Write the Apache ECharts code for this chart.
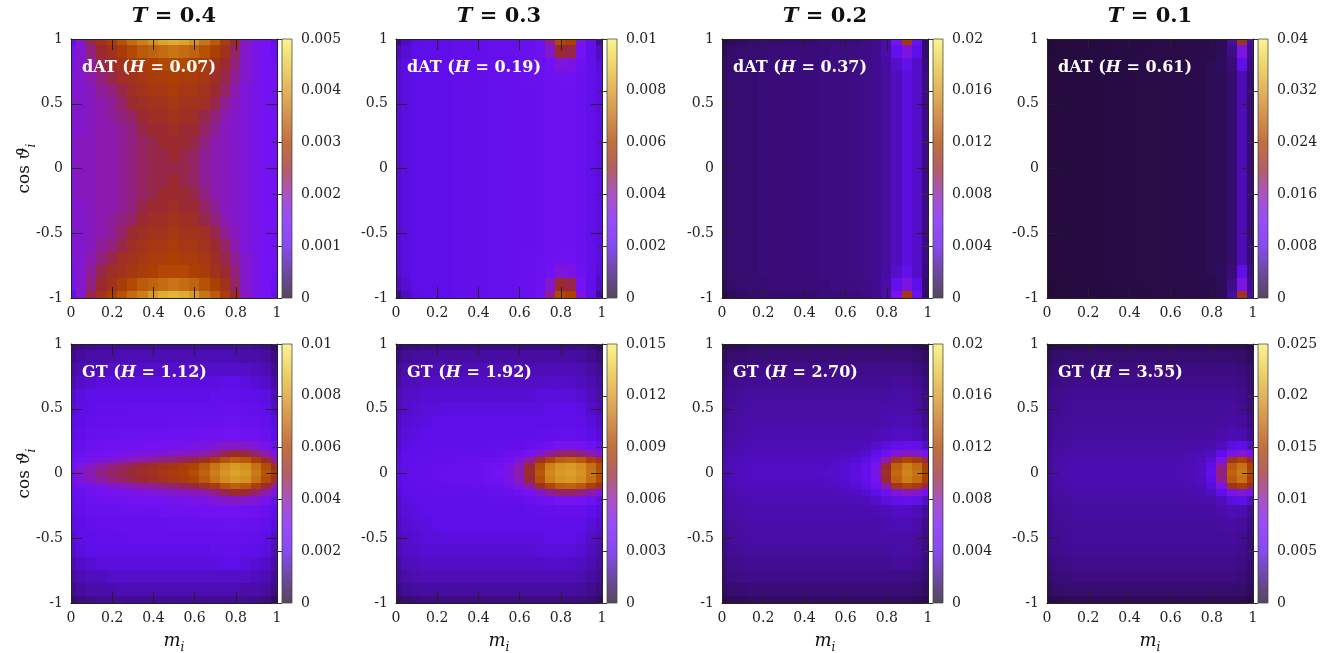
<!DOCTYPE html>
<html>
<head>
<meta charset="utf-8">
<script src="https://cdn.jsdelivr.net/npm/echarts@6/dist/echarts.min.js"></script>
<style>
html, body { margin: 0; padding: 0; background: #fff; }
#chart { width: 1334px; height: 653px; }
</style>
</head>
<body>
<div id="chart"></div>
<script>
// Grid coordinates of the sampled maps
const mCols = [0, 0.05, 0.1, 0.15, 0.2, 0.25, 0.3, 0.35, 0.4, 0.45, 0.5, 0.55, 0.6, 0.65, 0.7, 0.75, 0.8, 0.85, 0.9, 0.95, 1];
const cosRowsDAT = [1, 0.9, 0.8, 0.7, 0.6, 0.5, 0.4, 0.3, 0.2, 0.1, 0, -0.1, -0.2, -0.3, -0.4, -0.5, -0.6, -0.7, -0.8, -0.9, -1];
const cosRowsGT = [1, 0.9, 0.8, 0.7, 0.6, 0.5, 0.4, 0.3, 0.2, 0.15, 0.1, 0.05, 0, -0.05, -0.1, -0.15, -0.2, -0.3, -0.4, -0.5, -0.6, -0.7, -0.8, -0.9, -1];

// Panel annotations and colour-bar scales
const temps = ['0.4', '0.3', '0.2', '0.1'];
const datH = ['0.07', '0.19', '0.37', '0.61'];
const gtH = ['1.12', '1.92', '2.70', '3.55'];
const datMax = [0.005, 0.01, 0.02, 0.04];
const datStep = [0.001, 0.002, 0.004, 0.008];
const gtMax = [0.01, 0.015, 0.02, 0.025];
const gtStep = [0.002, 0.003, 0.004, 0.005];

// Map values, in units of 1e-4; rows run from cos = 1 (top) to cos = -1 (bottom)
const UNIT = 1e-4;

const datT04 = [
  [11,18,24,27,30,32,35,37,39,41,42,41,39,36,33,29,25,19,16,15,11],
  [15,18,22,25,27,29,31,33,34,35,36,35,34,32,30,27,23,18,16,15,13],
  [16,18,21,24,26,27,28,29,30,31,31,31,30,29,27,25,22,18,16,15,14],
  [17,18,20,22,24,26,27,28,29,29,30,29,29,28,26,24,21,18,16,15,15],
  [17,18,19,21,22,24,26,27,28,28,29,28,28,27,25,23,20,17,16,15,15],
  [18,18,19,20,21,23,25,26,27,27,28,27,27,26,24,21,19,17,16,15,15],
  [18,18,19,20,21,22,23,25,26,26,27,26,26,24,22,20,18,17,16,15,15],
  [18,18,19,20,20,21,22,24,25,25,26,25,25,23,21,19,18,17,16,15,15],
  [18,19,19,20,20,21,22,23,24,25,25,25,24,22,20,19,18,17,16,15,15],
  [18,19,19,20,20,21,22,23,24,24,25,24,23,21,20,19,18,17,16,15,15],
  [18,19,19,20,20,21,22,23,24,24,24,24,23,21,20,19,18,17,16,15,15],
  [18,19,19,20,20,21,22,23,24,24,25,24,23,21,20,19,18,17,16,15,15],
  [18,19,19,20,20,21,22,23,24,25,25,25,24,22,20,19,18,17,16,15,15],
  [18,18,19,20,20,21,22,24,25,25,26,25,25,23,21,19,18,17,16,15,15],
  [18,18,19,20,21,22,23,25,26,26,27,26,26,24,22,20,18,17,16,15,15],
  [18,18,19,20,21,23,25,26,27,27,28,27,27,26,24,21,19,17,16,15,15],
  [17,18,19,21,22,24,26,27,28,28,29,28,28,27,25,23,20,17,16,15,15],
  [17,18,20,22,24,26,27,28,29,29,30,29,29,28,26,24,21,18,16,15,15],
  [16,18,21,24,26,27,28,29,30,31,31,31,30,29,27,25,22,18,16,15,14],
  [15,18,22,25,27,29,31,33,34,35,36,35,34,32,30,27,23,18,16,15,13],
  [11,18,24,27,30,32,35,37,40,42,43,42,40,36,33,29,25,19,16,15,11]
];

const datT03 = [
  [10,16,19,20,21,21,22,22,22,23,23,23,24,25,28,42,62,60,34,22,12],
  [15,18,20,20,21,21,22,22,22,23,23,23,24,25,27,36,50,48,30,22,16],
  [17,19,20,20,21,21,22,22,22,23,23,23,24,25,26,29,34,33,27,22,18],
  [18,19,20,20,21,21,22,22,22,23,23,23,24,25,26,27,28,28,25,22,19],
  [18,19,20,20,21,21,22,22,22,23,23,23,24,24,25,26,27,27,25,22,19],
  [18,19,20,20,21,21,22,22,22,23,23,23,24,24,25,26,27,27,25,22,19],
  [18,19,20,20,21,21,22,22,22,23,23,23,24,24,25,26,27,27,25,22,19],
  [18,19,20,20,21,21,22,22,22,23,23,23,24,24,25,26,27,27,25,22,19],
  [18,19,20,20,21,21,22,22,22,23,23,23,24,24,25,26,27,27,25,22,19],
  [18,19,20,20,21,21,22,22,22,23,23,23,24,24,25,26,27,27,25,22,19],
  [18,19,20,20,21,21,22,22,22,23,23,23,24,24,25,26,27,27,25,22,19],
  [18,19,20,20,21,21,22,22,22,23,23,23,24,24,25,26,27,27,25,22,19],
  [18,19,20,20,21,21,22,22,22,23,23,23,24,24,25,26,27,27,25,22,19],
  [18,19,20,20,21,21,22,22,22,23,23,23,24,24,25,26,27,27,25,22,19],
  [18,19,20,20,21,21,22,22,22,23,23,23,24,24,25,26,27,27,25,22,19],
  [18,19,20,20,21,21,22,22,22,23,23,23,24,24,25,26,27,27,25,22,19],
  [18,19,20,20,21,21,22,22,22,23,23,23,24,24,25,26,27,27,25,22,19],
  [18,19,20,20,21,21,22,22,22,23,23,23,24,25,26,27,28,28,25,22,19],
  [17,19,20,20,21,21,22,22,22,23,23,23,24,25,26,29,34,33,27,22,18],
  [15,18,20,20,21,21,22,22,22,23,23,23,24,25,27,36,50,48,30,22,16],
  [10,16,19,20,21,21,22,22,22,23,23,23,24,25,28,42,62,60,34,22,12]
];

const datT02 = [
  [7,12,14,15,16,16,16,17,17,17,18,18,18,19,20,22,28,62,112,50,14],
  [12,15,16,17,17,18,18,18,19,19,19,20,20,20,21,23,28,46,66,40,17],
  [13,16,17,17,18,18,18,19,19,19,20,20,20,21,22,23,27,35,44,34,19],
  [14,16,17,17,18,18,18,19,19,19,20,20,20,21,22,23,26,32,38,34,20],
  [14,16,17,17,18,18,18,19,19,19,20,20,20,21,22,23,26,32,38,34,20],
  [14,16,17,17,18,18,18,19,19,19,20,20,20,21,22,23,26,32,38,34,20],
  [14,16,17,17,18,18,18,19,19,19,20,20,20,21,22,23,26,32,38,34,20],
  [14,16,17,17,18,18,18,19,19,19,20,20,20,21,22,23,26,32,38,34,20],
  [14,16,17,17,18,18,18,19,19,19,20,20,20,21,22,23,26,32,38,34,20],
  [14,16,17,17,18,18,18,19,19,19,20,20,20,21,22,23,26,32,38,34,20],
  [14,16,17,17,18,18,18,19,19,19,20,20,20,21,22,23,26,32,38,34,20],
  [14,16,17,17,18,18,18,19,19,19,20,20,20,21,22,23,26,32,38,34,20],
  [14,16,17,17,18,18,18,19,19,19,20,20,20,21,22,23,26,32,38,34,20],
  [14,16,17,17,18,18,18,19,19,19,20,20,20,21,22,23,26,32,38,34,20],
  [14,16,17,17,18,18,18,19,19,19,20,20,20,21,22,23,26,32,38,34,20],
  [14,16,17,17,18,18,18,19,19,19,20,20,20,21,22,23,26,32,38,34,20],
  [14,16,17,17,18,18,18,19,19,19,20,20,20,21,22,23,26,32,38,34,20],
  [14,16,17,17,18,18,18,19,19,19,20,20,20,21,22,23,26,32,38,34,20],
  [13,16,17,17,18,18,18,19,19,19,20,20,20,21,22,23,27,35,44,34,19],
  [12,15,16,17,17,18,18,18,19,19,19,20,20,20,21,23,28,46,66,40,17],
  [7,12,14,15,16,16,16,17,17,17,18,18,18,19,20,22,28,62,112,50,14]
];

const datT01 = [
  [6,10,11,12,12,13,13,13,14,14,14,15,15,15,16,17,18,22,50,215,55],
  [9,11,12,12,13,13,13,14,14,14,15,15,15,16,16,17,19,24,42,130,48],
  [10,12,12,13,13,13,14,14,14,15,15,15,16,16,17,18,20,25,36,85,40],
  [10,12,12,13,13,13,14,14,14,15,15,15,16,16,17,18,20,24,32,60,34],
  [10,12,12,13,13,13,14,14,14,15,15,15,16,16,17,18,20,24,32,60,34],
  [10,12,12,13,13,13,14,14,14,15,15,15,16,16,17,18,20,24,32,60,34],
  [10,12,12,13,13,13,14,14,14,15,15,15,16,16,17,18,20,24,32,60,34],
  [10,12,12,13,13,13,14,14,14,15,15,15,16,16,17,18,20,24,32,60,34],
  [10,12,12,13,13,13,14,14,14,15,15,15,16,16,17,18,20,24,32,60,34],
  [10,12,12,13,13,13,14,14,14,15,15,15,16,16,17,18,20,24,32,60,34],
  [10,12,12,13,13,13,14,14,14,15,15,15,16,16,17,18,20,24,32,60,34],
  [10,12,12,13,13,13,14,14,14,15,15,15,16,16,17,18,20,24,32,60,34],
  [10,12,12,13,13,13,14,14,14,15,15,15,16,16,17,18,20,24,32,60,34],
  [10,12,12,13,13,13,14,14,14,15,15,15,16,16,17,18,20,24,32,60,34],
  [10,12,12,13,13,13,14,14,14,15,15,15,16,16,17,18,20,24,32,60,34],
  [10,12,12,13,13,13,14,14,14,15,15,15,16,16,17,18,20,24,32,60,34],
  [10,12,12,13,13,13,14,14,14,15,15,15,16,16,17,18,20,24,32,60,34],
  [10,12,12,13,13,13,14,14,14,15,15,15,16,16,17,18,20,24,32,60,34],
  [10,12,12,13,13,13,14,14,14,15,15,15,16,16,17,18,20,25,36,85,40],
  [9,11,12,12,13,13,13,14,14,14,15,15,15,16,16,17,19,24,42,130,48],
  [6,10,11,12,12,13,13,13,14,14,14,15,15,15,16,17,18,22,50,215,55]
];

const gtT04 = [
  [8,10,11,12,12,12,12,12,12,12,12,12,12,12,12,12,12,12,11,10,7],
  [11,13,14,14,14,15,15,15,15,15,15,15,15,15,15,15,15,14,14,13,10],
  [13,15,16,16,17,17,17,17,17,17,17,17,17,17,17,17,17,17,16,15,12],
  [15,17,18,19,19,19,19,19,19,19,19,19,19,19,19,20,20,19,18,17,14],
  [17,19,20,21,21,21,21,21,21,21,21,21,21,21,22,22,22,21,20,19,16],
  [18,20,21,22,22,22,23,23,23,23,23,23,23,23,23,24,24,23,22,21,17],
  [19,21,22,23,23,24,24,24,24,24,25,25,25,25,25,26,26,25,24,22,19],
  [20,22,24,25,25,26,26,26,26,27,27,27,27,28,28,29,29,28,27,25,21],
  [22,24,26,27,28,28,29,29,30,30,31,31,32,33,34,36,37,36,34,31,26],
  [24,26,28,29,30,31,32,33,34,35,36,37,38,40,43,47,50,49,45,40,32],
  [26,29,31,33,35,37,39,41,42,44,45,47,49,53,58,64,67,65,59,51,41],
  [28,34,38,41,44,46,48,50,52,54,56,58,61,66,72,77,80,78,71,63,53],
  [29,36,40,44,46,48,50,52,54,56,58,60,63,68,74,79,82,80,73,65,58],
  [28,34,38,41,44,46,48,50,52,54,56,58,61,66,72,77,80,78,71,63,53],
  [26,29,31,33,35,37,39,41,42,44,45,47,49,53,58,64,67,65,59,51,41],
  [24,26,28,29,30,31,32,33,34,35,36,37,38,40,43,47,50,49,45,40,32],
  [22,24,26,27,28,28,29,29,30,30,31,31,32,33,34,36,37,36,34,31,26],
  [20,22,24,25,25,26,26,26,26,27,27,27,27,28,28,29,29,28,27,25,21],
  [19,21,22,23,23,24,24,24,24,24,25,25,25,25,25,26,26,25,24,22,19],
  [18,20,21,22,22,22,23,23,23,23,23,23,23,23,23,24,24,23,22,21,17],
  [17,19,20,21,21,21,21,21,21,21,21,21,21,21,22,22,22,21,20,19,16],
  [15,17,18,19,19,19,19,19,19,19,19,19,19,19,19,20,20,19,18,17,14],
  [13,15,16,16,17,17,17,17,17,17,17,17,17,17,17,17,17,17,16,15,12],
  [11,13,14,14,14,15,15,15,15,15,15,15,15,15,15,15,15,14,14,13,10],
  [8,10,11,12,12,12,12,12,12,12,12,12,12,12,12,12,12,12,11,10,7]
];

const gtT03 = [
  [10,13,14,15,15,15,15,15,15,15,15,15,15,15,15,15,15,15,15,13,10],
  [15,18,19,20,20,20,20,20,20,20,20,20,20,20,20,20,20,20,19,17,14],
  [18,21,22,23,23,23,23,23,23,23,23,23,23,23,23,23,23,23,22,20,17],
  [20,23,24,25,25,25,25,25,25,25,25,25,25,25,25,26,26,25,24,22,19],
  [22,25,26,27,27,27,27,27,27,27,27,27,27,27,28,28,28,28,27,24,21],
  [23,26,27,28,28,29,29,29,29,29,29,29,29,29,29,30,30,30,29,26,23],
  [24,27,28,29,30,30,30,30,30,30,30,30,30,30,31,31,32,32,31,28,25],
  [25,28,29,30,31,31,31,31,31,31,31,31,31,32,33,34,35,35,34,31,27],
  [26,29,30,31,32,32,32,32,32,32,33,33,34,36,39,43,46,47,45,41,35],
  [27,30,31,32,33,33,33,33,33,34,35,37,40,45,53,62,68,69,66,60,52],
  [28,31,32,33,34,34,35,35,36,37,39,43,50,62,78,92,100,102,98,90,80],
  [29,32,33,34,35,36,37,37,38,40,43,49,58,74,95,112,118,120,116,106,94],
  [30,33,34,35,36,37,38,38,39,41,44,50,60,77,98,114,120,122,118,108,96],
  [29,32,33,34,35,36,37,37,38,40,43,49,58,74,95,112,118,120,116,106,94],
  [28,31,32,33,34,34,35,35,36,37,39,43,50,62,78,92,100,102,98,90,80],
  [27,30,31,32,33,33,33,33,33,34,35,37,40,45,53,62,68,69,66,60,52],
  [26,29,30,31,32,32,32,32,32,32,33,33,34,36,39,43,46,47,45,41,35],
  [25,28,29,30,31,31,31,31,31,31,31,31,31,32,33,34,35,35,34,31,27],
  [24,27,28,29,30,30,30,30,30,30,30,30,30,30,31,31,32,32,31,28,25],
  [23,26,27,28,28,29,29,29,29,29,29,29,29,29,29,30,30,30,29,26,23],
  [22,25,26,27,27,27,27,27,27,27,27,27,27,27,28,28,28,28,27,24,21],
  [20,23,24,25,25,25,25,25,25,25,25,25,25,25,25,26,26,25,24,22,19],
  [18,21,22,23,23,23,23,23,23,23,23,23,23,23,23,23,23,23,22,20,17],
  [15,18,19,20,20,20,20,20,20,20,20,20,20,20,20,20,20,20,19,17,14],
  [10,13,14,15,15,15,15,15,15,15,15,15,15,15,15,15,15,15,15,13,10]
];

const gtT02 = [
  [8,11,12,13,13,13,13,13,13,13,13,13,13,13,13,13,13,13,13,12,9],
  [13,16,17,18,18,18,18,18,18,18,18,18,18,18,18,18,18,18,18,16,13],
  [17,20,21,22,22,22,22,22,22,22,22,22,22,22,22,22,22,22,22,20,16],
  [19,22,23,24,24,24,24,24,24,24,24,24,24,24,24,24,24,25,25,23,18],
  [21,24,25,26,26,26,26,26,26,26,26,26,26,26,26,26,26,27,27,25,20],
  [22,25,26,27,27,27,27,27,27,27,27,27,27,27,27,27,28,28,28,26,21],
  [23,26,27,28,28,28,28,28,28,28,28,28,28,28,28,28,29,30,30,28,22],
  [24,27,28,29,29,29,29,29,29,29,29,29,29,29,29,30,31,33,33,31,25],
  [25,28,29,30,30,30,30,30,30,30,30,30,30,31,32,34,38,44,46,44,36],
  [26,29,30,31,31,31,31,31,31,31,31,31,32,33,35,40,52,68,76,72,60],
  [27,30,31,32,32,32,32,32,32,32,32,33,34,36,40,52,80,110,122,115,95],
  [28,31,32,33,33,33,33,33,33,33,33,34,35,38,44,62,100,135,148,140,118],
  [28,31,32,33,33,33,33,33,33,33,34,35,36,39,45,65,104,138,150,143,122],
  [28,31,32,33,33,33,33,33,33,33,33,34,35,38,44,62,100,135,148,140,118],
  [27,30,31,32,32,32,32,32,32,32,32,33,34,36,40,52,80,110,122,115,95],
  [26,29,30,31,31,31,31,31,31,31,31,31,32,33,35,40,52,68,76,72,60],
  [25,28,29,30,30,30,30,30,30,30,30,30,30,31,32,34,38,44,46,44,36],
  [24,27,28,29,29,29,29,29,29,29,29,29,29,29,29,30,31,33,33,31,25],
  [23,26,27,28,28,28,28,28,28,28,28,28,28,28,28,28,29,30,30,28,22],
  [22,25,26,27,27,27,27,27,27,27,27,27,27,27,27,27,28,28,28,26,21],
  [21,24,25,26,26,26,26,26,26,26,26,26,26,26,26,26,26,27,27,25,20],
  [19,22,23,24,24,24,24,24,24,24,24,24,24,24,24,24,24,25,25,23,18],
  [17,20,21,22,22,22,22,22,22,22,22,22,22,22,22,22,22,22,22,20,16],
  [13,16,17,18,18,18,18,18,18,18,18,18,18,18,18,18,18,18,18,16,13],
  [8,11,12,13,13,13,13,13,13,13,13,13,13,13,13,13,13,13,13,12,9]
];

const gtT01 = [
  [9,12,13,14,14,14,14,14,14,14,14,14,14,14,14,14,14,14,14,13,10],
  [15,19,20,21,21,21,21,21,21,21,21,21,21,21,21,21,21,21,21,19,15],
  [19,23,24,25,25,25,25,25,25,25,25,25,25,25,25,25,25,25,25,23,19],
  [22,26,27,28,28,28,28,28,28,28,28,28,28,28,28,28,28,28,28,26,21],
  [24,28,29,30,30,30,30,30,30,30,30,30,30,30,30,30,30,30,30,28,23],
  [25,29,30,31,31,31,31,31,31,31,31,31,31,31,31,31,31,31,32,30,24],
  [26,30,31,32,32,32,32,32,32,32,32,32,32,32,32,32,32,33,34,32,26],
  [27,31,32,33,33,33,33,33,33,33,33,33,33,33,33,33,33,35,37,36,29],
  [28,32,33,34,34,34,34,34,34,34,34,34,34,34,34,35,36,40,48,50,42],
  [29,33,34,35,35,35,35,35,35,35,35,35,35,35,36,37,40,52,80,90,75],
  [30,34,35,36,36,36,36,36,36,36,36,36,36,36,37,39,46,80,135,150,125],
  [30,34,35,36,36,36,36,36,36,36,36,36,36,37,38,41,52,105,165,178,150],
  [31,35,36,37,37,37,37,37,37,37,37,37,37,37,38,42,54,110,170,182,155],
  [30,34,35,36,36,36,36,36,36,36,36,36,36,37,38,41,52,105,165,178,150],
  [30,34,35,36,36,36,36,36,36,36,36,36,36,36,37,39,46,80,135,150,125],
  [29,33,34,35,35,35,35,35,35,35,35,35,35,35,36,37,40,52,80,90,75],
  [28,32,33,34,34,34,34,34,34,34,34,34,34,34,34,35,36,40,48,50,42],
  [27,31,32,33,33,33,33,33,33,33,33,33,33,33,33,33,33,35,37,36,29],
  [26,30,31,32,32,32,32,32,32,32,32,32,32,32,32,32,32,33,34,32,26],
  [25,29,30,31,31,31,31,31,31,31,31,31,31,31,31,31,31,31,32,30,24],
  [24,28,29,30,30,30,30,30,30,30,30,30,30,30,30,30,30,30,30,28,23],
  [22,26,27,28,28,28,28,28,28,28,28,28,28,28,28,28,28,28,28,26,21],
  [19,23,24,25,25,25,25,25,25,25,25,25,25,25,25,25,25,25,25,23,19],
  [15,19,20,21,21,21,21,21,21,21,21,21,21,21,21,21,21,21,21,19,15],
  [9,12,13,14,14,14,14,14,14,14,14,14,14,14,14,14,14,14,14,13,10]
];

// Colour map, evenly spaced from 0 to the colour-bar maximum
const palette = ['#1c0b24', '#3c0c80', '#5e0ee8', '#7412f4', '#8c1ab0', '#9a2a30', '#ac4000', '#c46c14', '#d89a26', '#e8c83c', '#f8f070'];

// Layout
const FONT = 'DejaVu Serif';
const INK = '#222';
const plotLeft = [71, 396, 722, 1047];
const plotTop = [39, 344];
const plotW = 206;
const plotH = 259;
const barGap = 211;
const barW = 10;

const panels = [
  { rows: datT04, cos: cosRowsDAT, max: datMax[0], step: datStep[0], tag: 'dAT', h: datH[0] },
  { rows: datT03, cos: cosRowsDAT, max: datMax[1], step: datStep[1], tag: 'dAT', h: datH[1] },
  { rows: datT02, cos: cosRowsDAT, max: datMax[2], step: datStep[2], tag: 'dAT', h: datH[2] },
  { rows: datT01, cos: cosRowsDAT, max: datMax[3], step: datStep[3], tag: 'dAT', h: datH[3] },
  { rows: gtT04, cos: cosRowsGT, max: gtMax[0], step: gtStep[0], tag: 'GT', h: gtH[0] },
  { rows: gtT03, cos: cosRowsGT, max: gtMax[1], step: gtStep[1], tag: 'GT', h: gtH[1] },
  { rows: gtT02, cos: cosRowsGT, max: gtMax[2], step: gtStep[2], tag: 'GT', h: gtH[2] },
  { rows: gtT01, cos: cosRowsGT, max: gtMax[3], step: gtStep[3], tag: 'GT', h: gtH[3] }
];

// Cell extent: halfway to each neighbouring sample, clamped at the ends
function span(arr, i) {
  const a = i === 0 ? arr[0] : (arr[i - 1] + arr[i]) / 2;
  const b = i === arr.length - 1 ? arr[i] : (arr[i] + arr[i + 1]) / 2;
  return [a, b];
}

function buildCells(rows, cosGrid) {
  const out = [];
  rows.forEach((row, r) => {
    const [c0, c1] = span(cosGrid, r);
    row.forEach((v, c) => {
      const [m0, m1] = span(mCols, c);
      out.push([mCols[c], cosGrid[r], v * UNIT, m0, m1, c0, c1]);
    });
  });
  return out;
}

function renderCell(params, api) {
  const a = api.coord([api.value(3), api.value(5)]);
  const b = api.coord([api.value(4), api.value(6)]);
  const x0 = Math.min(a[0], b[0]), x1 = Math.max(a[0], b[0]);
  const y0 = Math.min(a[1], b[1]), y1 = Math.max(a[1], b[1]);
  return {
    type: 'rect',
    shape: { x: Math.floor(x0), y: Math.floor(y0), width: Math.ceil(x1 - x0) + 1, height: Math.ceil(y1 - y0) + 1 },
    style: { fill: api.visual('color') }
  };
}

function renderBar(params) {
  const cs = params.coordSys;
  return {
    type: 'rect',
    shape: { x: cs.x, y: cs.y, width: cs.width, height: cs.height },
    style: {
      fill: new echarts.graphic.LinearGradient(0, 1, 0, 0,
        palette.map((c, i) => ({ offset: i / (palette.length - 1), color: c }))),
      stroke: '#444',
      lineWidth: 1,
      opacity: 0.75
    }
  };
}

function frameAxis(gridIndex, position, showLabel, min, max, interval) {
  return {
    type: 'value', gridIndex, position, min, max, interval, z: 10,
    axisLine: { show: true, onZero: false, lineStyle: { color: INK, width: 1 } },
    axisTick: { show: true, inside: true, length: 11, lineStyle: { color: INK, width: 1 } },
    axisLabel: { show: showLabel, color: INK, fontFamily: FONT, fontSize: 14, margin: 8 },
    splitLine: { show: false }
  };
}

const grid = [], xAxis = [], yAxis = [], series = [], visualMap = [], graphic = [];

panels.forEach((p, k) => {
  const col = k % 4, row = Math.floor(k / 4);
  const left = plotLeft[col], top = plotTop[row];
  const gMain = grid.length;
  grid.push({ left, top, width: plotW, height: plotH });
  const gBar = grid.length;
  grid.push({ left: left + barGap, top, width: barW, height: plotH });

  const xi = xAxis.length, yi = yAxis.length;
  xAxis.push(frameAxis(gMain, 'bottom', true, 0, 1, 0.2));
  xAxis.push(frameAxis(gMain, 'top', false, 0, 1, 0.2));
  xAxis.push({ type: 'value', gridIndex: gBar, show: false, min: 0, max: 1 });
  yAxis.push(frameAxis(gMain, 'left', true, -1, 1, 0.5));
  yAxis.push(frameAxis(gMain, 'right', false, -1, 1, 0.5));
  yAxis.push({
    type: 'value', gridIndex: gBar, position: 'right', min: 0, max: p.max, interval: p.step, z: 10,
    axisLine: { show: false },
    axisTick: { show: true, inside: true, length: barW, lineStyle: { color: '#333', width: 1 } },
    axisLabel: { color: INK, fontFamily: FONT, fontSize: 14, margin: 9 },
    splitLine: { show: false }
  });

  series.push({
    type: 'custom', name: p.tag + ' T=' + temps[col],
    xAxisIndex: xi, yAxisIndex: yi,
    data: buildCells(p.rows, p.cos),
    encode: { x: 0, y: 1 },
    renderItem: renderCell,
    clip: true, silent: true, progressive: 0
  });

  visualMap.push({
    type: 'continuous', show: false, seriesIndex: k, dimension: 2,
    min: 0, max: p.max, inRange: { color: palette }
  });

  // Panel label in the upper-left corner
  graphic.push({
    type: 'text', x: left + 11, y: top + 29, z: 100, silent: true,
    style: {
      text: '{b|' + p.tag + ' (}{i|H}{b| = ' + p.h + ')}',
      verticalAlign: 'middle', align: 'left',
      rich: {
        b: { fontFamily: FONT, fontWeight: 'bold', fontSize: 16, fill: '#fff' },
        i: { fontFamily: FONT, fontWeight: 'bold', fontStyle: 'italic', fontSize: 16, fill: '#fff' }
      }
    }
  });
});

// Colour-bar strips drawn after the maps
panels.forEach((p, k) => {
  series.push({
    type: 'custom', xAxisIndex: 3 * k + 2, yAxisIndex: 3 * k + 2,
    data: [[0.5, 0]], renderItem: renderBar, silent: true
  });
});

// Column titles
temps.forEach((t, c) => {
  graphic.push({
    type: 'text', x: plotLeft[c] + plotW / 2, y: 17, silent: true,
    style: {
      text: '{i|T}{b| = ' + t + '}', align: 'center', verticalAlign: 'middle',
      rich: {
        b: { fontFamily: FONT, fontWeight: 'bold', fontSize: 21, fill: '#111' },
        i: { fontFamily: FONT, fontWeight: 'bold', fontStyle: 'italic', fontSize: 21, fill: '#111' }
      }
    }
  });
  // x-axis title under the lower row
  graphic.push({
    type: 'text', x: plotLeft[c] + plotW / 2, y: 641, silent: true,
    style: {
      text: '{i|m}{s|i}', align: 'center', verticalAlign: 'middle',
      rich: {
        i: { fontFamily: FONT, fontStyle: 'italic', fontSize: 18, fill: '#111', lineHeight: 26, verticalAlign: 'middle' },
        s: { fontFamily: FONT, fontStyle: 'italic', fontSize: 12, fill: '#111', lineHeight: 26, verticalAlign: 'bottom' }
      }
    }
  });
});

// y-axis titles on the left column
plotTop.forEach((top) => {
  graphic.push({
    type: 'text', x: 25, y: top + plotH / 2, rotation: Math.PI / 2, silent: true,
    style: {
      text: '{r|cos }{i|ϑ}{s|i}', align: 'center', verticalAlign: 'middle',
      rich: {
        r: { fontFamily: FONT, fontSize: 17, fill: '#111', lineHeight: 26, verticalAlign: 'middle' },
        i: { fontFamily: FONT, fontStyle: 'italic', fontSize: 17, fill: '#111', lineHeight: 26, verticalAlign: 'middle' },
        s: { fontFamily: FONT, fontStyle: 'italic', fontSize: 12, fill: '#111', lineHeight: 26, verticalAlign: 'bottom' }
      }
    }
  });
});

const chart = echarts.init(document.getElementById('chart'), null, { renderer: 'canvas' });
chart.setOption({
  backgroundColor: '#fff',
  animation: false,
  grid, xAxis, yAxis, series, visualMap, graphic
});
</script>
</body>
</html>
